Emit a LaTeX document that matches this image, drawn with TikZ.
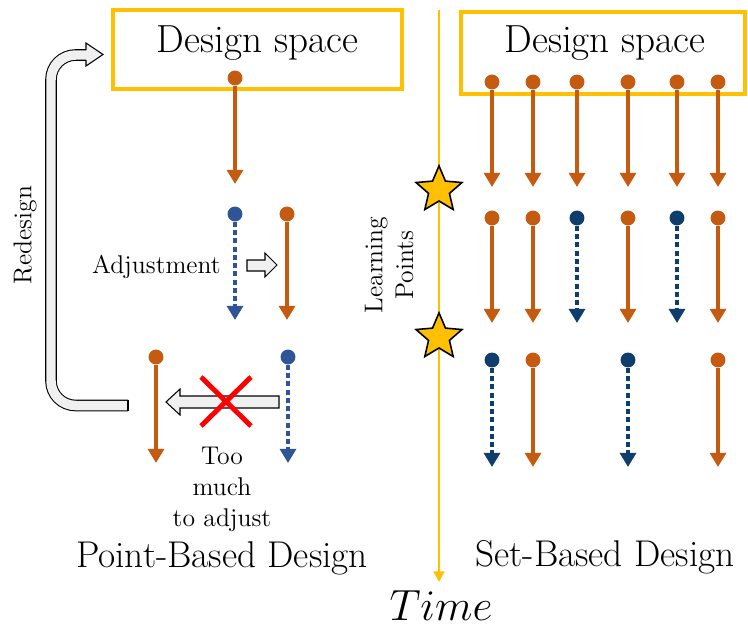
\documentclass[tikz,border=0pt]{standalone}
\usepackage{tikz}
\usetikzlibrary{arrows.meta,shapes,positioning}
\definecolor{orangeSol}{HTML}{C55A11}
\definecolor{bleuG}{HTML}{2F5597}
\definecolor{bleuD}{HTML}{0F3E6C}
\definecolor{jaune}{HTML}{FFC000}
\definecolor{grisF}{HTML}{F0F0F0}

\begin{document}
\begin{tikzpicture}[x=0.02cm, y=-0.02cm]
%styles : points de conception, flèches retenues / abandonnées
\tikzset{grand/.style={font=\fontsize{22.3}{26}\selectfont},
titre/.style={font=\fontsize{21.2}{25}\selectfont},
petit/.style={font=\fontsize{14.6}{17.5}\selectfont},
espace/.style={draw=jaune, line width=2pt, inner sep=0},
point/.style={circle, fill=#1, inner sep=0, minimum size=8.5pt},
pointchoix/.style={point=orangeSol},
pointabandon/.style={point=bleuD},
choix/.style={orangeSol, line width=2.6pt, -{Triangle[length=8pt,width=9pt]}},
abandon/.style={bleuD, line width=2.6pt, dash pattern=on 2.8pt off 1.9pt, -{Triangle[length=8pt,width=9pt]}},
creux/.style={draw=black, line width=0.6pt, fill=grisF},
etoile/.style={star, star points=5, star point ratio=2.2, minimum size=27.5pt, inner sep=0, fill=jaune, draw=black, line width=0.9pt}}
\useasboundingbox (0,0) rectangle (748,632);

%axe du temps
\coordinate (t0) at (439,10);
\coordinate (t1) at (439,582);
\draw[jaune, line width=1.7pt, -{Triangle[length=6pt,width=6pt]}] (t0) -- (t1);
\node[font=\fontsize{23.5}{28}\selectfont, anchor=base] (temps) at (441,620) {$Time$};
\node[etoile] (e1) at (439,190) {};
\node[etoile] (e2) at (439,337) {};
\node[petit, rotate=90, align=center] (appr) at (389,265) {Learning\\Points};

%conception par points
\node[espace, minimum width=289pt*0.569, minimum height=79pt*0.569] (espL) at (257.5,49.5) {};
\node[grand, anchor=base] at (257.5,52) {Design space};
\node[pointchoix] (a1) at (235,78) {};
\coordinate (a1f) at (235,184);
\draw[choix] (a1) -- (a1f);
\node[point=bleuG] (a2) at (235,214) {};
\coordinate (a2f) at (235,320);
\draw[abandon, bleuG] (a2) -- (a2f);
\node[pointchoix] (a3) at (287,214) {};
\coordinate (a3f) at (287,320);
\draw[choix] (a3) -- (a3f);
\node[petit, anchor=base east, inner sep=0] (ajust) at (221,273) {Adjustment};
\draw[creux] (247,260) -- (265,260) -- (265,253) -- (277,265) -- (265,277) -- (265,271) -- (247,271) -- cycle;
\node[pointchoix] (a4) at (156,357) {};
\coordinate (a4f) at (156,463);
\draw[choix] (a4) -- (a4f);
\node[point=bleuG] (a5) at (288,357) {};
\coordinate (a5f) at (288,463);
\draw[abandon, bleuG] (a5) -- (a5f);
\draw[creux] (279,396) -- (180,396) -- (180,389) -- (166,402) -- (180,415) -- (180,408) -- (279,408) -- cycle;
\draw[red, line width=2.8pt] (201,377) -- (251,426) (251,377) -- (201,426);
\node[petit, align=center, anchor=north, inner sep=0] (trop) at (222,447) {Too\\much\\to adjust};
\node[titre, anchor=base] (pbd) at (222,567) {Point-Based Design};

%retour : redesign
\draw[line width=0.6pt, double=grisF, double distance=9.5pt*0.569, rounded corners=14pt] (128,405.5) -- (51,405.5) -- (51,55) -- (86,55);
\draw[line width=0.6pt] (128,400) -- (128,411);
\draw[creux] (86,50) -- (86,43) -- (103,54.5) -- (86,66) -- (86,60);
\node[petit, rotate=90] (redes) at (25,235) {Redesign};

%conception par ensembles
\node[espace, minimum width=284pt*0.569, minimum height=82pt*0.569] (espR) at (603,53) {};
\node[grand, anchor=base] at (605,52) {Design space};
\foreach \x [count=\i] in {492,533,577,628,677,718} {
\node[pointchoix] (b\i) at (\x,82) {};
\coordinate (bf\i) at (\x,187);
\draw[choix] (b\i) -- (bf\i);
}
\foreach \x/\t [count=\i] in {492/choix,533/choix,577/abandon,628/choix,677/abandon,718/choix} {
\node[point\t] (c\i) at (\x,218) {};
\coordinate (cf\i) at (\x,323);
\draw[\t] (c\i) -- (cf\i);
}
\foreach \x/\t [count=\i] in {492/abandon,533/choix,628/abandon,718/choix} {
\node[point\t] (d\i) at (\x,360) {};
\coordinate (df\i) at (\x,467);
\draw[\t] (d\i) -- (df\i);
}
\node[titre, anchor=base] (sbd) at (605,566) {Set-Based Design};
\end{tikzpicture}
\end{document}
